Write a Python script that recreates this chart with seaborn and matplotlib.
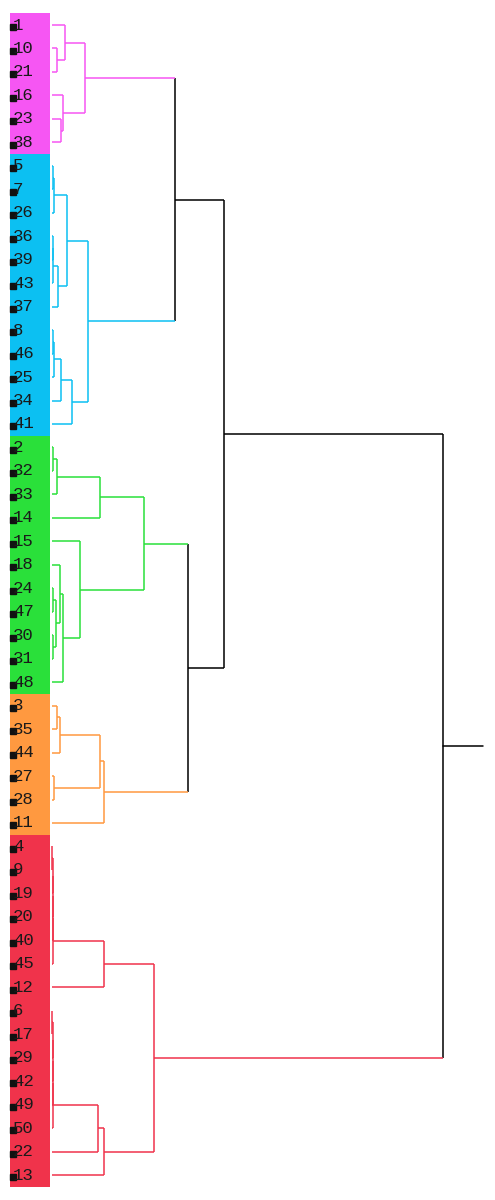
import matplotlib
matplotlib.use("Agg")
import matplotlib.pyplot as plt
import seaborn as sns
from matplotlib.patches import Rectangle

# leaf order, top to bottom
LEAF_LABELS = [
    "1", "10", "21", "16", "23", "38",
    "5", "7", "26", "36", "39", "43", "37", "8", "46", "25", "34", "41",
    "2", "32", "33", "14", "15", "18", "24", "47", "30", "31", "48",
    "3", "35", "44", "27", "28", "11",
    "4", "9", "19", "20", "40", "45", "12", "6", "17", "29", "42", "49", "50", "22", "13",
]

# (node, left, right, merge height)
MERGES = [
    ("m1", "10", "21", 5), ("m2", "1", "m1", 13),
    ("m3", "23", "38", 9), ("m4", "16", "m3", 11),
    ("MAG", "m2", "m4", 33),
    ("c1", "5", "7", 0.5), ("c2", "c1", "26", 1.5),
    ("c3", "36", "39", 0.5), ("c4", "c3", "43", 1.2), ("c5", "c4", "37", 5.7),
    ("c6", "c2", "c5", 15),
    ("c7", "8", "46", 0.8), ("c8", "c7", "25", 1.5), ("c9", "c8", "34", 8.5),
    ("c10", "c9", "41", 19.5),
    ("CYAN", "c6", "c10", 36),
    ("g1", "2", "32", 0.7), ("g2", "g1", "33", 4.5), ("g3", "g2", "14", 47.5),
    ("g4", "24", "47", 0.5), ("g5", "30", "31", 0.6), ("g6", "g4", "g5", 4),
    ("g7", "18", "g6", 8), ("g8", "g7", "48", 11.3), ("g9", "15", "g8", 28),
    ("GREEN", "g3", "g9", 92),
    ("o1", "3", "35", 5), ("o2", "o1", "44", 7.5), ("o3", "27", "28", 2),
    ("o4", "o2", "o3", 48),
    ("ORANGE", "o4", "11", 51.5),
    ("r1", "4", "9", 0.4), ("r2", "r1", "19", 0.6), ("r3", "r2", "20", 0.8),
    ("r4", "r3", "40", 1.0), ("r5", "r4", "45", 1.2), ("r6", "r5", "12", 52),
    ("r7", "6", "17", 0.4), ("r8", "r7", "29", 0.6), ("r9", "r8", "42", 0.8),
    ("r10", "r9", "49", 1.0), ("r11", "r10", "50", 1.2), ("r12", "r11", "22", 46),
    ("r13", "r12", "13", 52.3),
    ("RED", "r6", "r13", 102),
    ("t1", "MAG", "CYAN", 123),
    ("t2", "GREEN", "ORANGE", 136),
    ("t3", "t1", "t2", 172),
    ("ROOT", "t3", "RED", 391),
]

CLUSTER_ROOTS = ["MAG", "CYAN", "GREEN", "ORANGE", "RED"]
CLUSTER_COLORS = ["#F656F3", "#0CC0F2", "#2AE03A", "#FF9940", "#F0334B"]


def layout(merges, leaves):
    nodes = {name: (left, right, h) for name, left, right, h in merges}
    pos, height = {}, {}
    for i, lab in enumerate(leaves):
        pos[lab] = i
        height[lab] = 0.0
    for name, left, right, h in merges:
        pos[name] = (pos[left] + pos[right]) / 2
        height[name] = h
    return nodes, pos, height


def node_colors(nodes, roots, colors):
    col = {}

    def paint(n, c):
        col[n] = c
        if n in nodes:
            paint(nodes[n][0], c)
            paint(nodes[n][1], c)

    for r, c in zip(roots, colors):
        paint(r, c)
    return col


nodes, pos, height = layout(MERGES, LEAF_LABELS)
col = node_colors(nodes, CLUSTER_ROOTS, CLUSTER_COLORS)

sns.set_theme(style="white")
plt.rcParams["font.family"] = ["Liberation Mono", "DejaVu Sans Mono"]

fig = plt.figure(figsize=(4.95, 12), dpi=100)
ax = fig.add_axes([0, 0, 1, 1])

# cluster colour strips behind the labels
for r, c in zip(CLUSTER_ROOTS, CLUSTER_COLORS):
    members = []
    stack = [r]
    while stack:
        n = stack.pop()
        if n in nodes:
            stack.extend(nodes[n][:2])
        else:
            members.append(pos[n])
    lo, hi = min(members) - 0.5, max(members) + 0.5
    ax.add_patch(Rectangle((-42, lo), 40, hi - lo, facecolor=c, edgecolor="none", zorder=1))

lw = 1.1
for name, (left, right, h) in nodes.items():
    c_node = col.get(name, "black")
    ax.plot([h, h], [pos[left], pos[right]], color=c_node, lw=lw, solid_capstyle="butt", zorder=3)
    for child in (left, right):
        ax.plot([height[child], h], [pos[child], pos[child]],
                color=col.get(child, "black"), lw=lw, solid_capstyle="butt", zorder=3)

root = MERGES[-1][0]
ax.plot([height[root], height[root] * 1.102], [pos[root], pos[root]], color="black", lw=lw, zorder=3)

for lab in LEAF_LABELS:
    y = pos[lab]
    ax.plot(-39.5, y + 0.1, marker="s", ms=4.0, color="#111111", zorder=4)
    ax.text(-39.0, y, lab, ha="left", va="center", fontsize=12.5, color="#1a1a1a", zorder=5)

ax.set_xlim(-52, 443)
ax.set_ylim(1175 / 23.47, -25 / 23.47)
ax.axis("off")

plt.savefig("out.png", dpi=100)
plt.close(fig)
